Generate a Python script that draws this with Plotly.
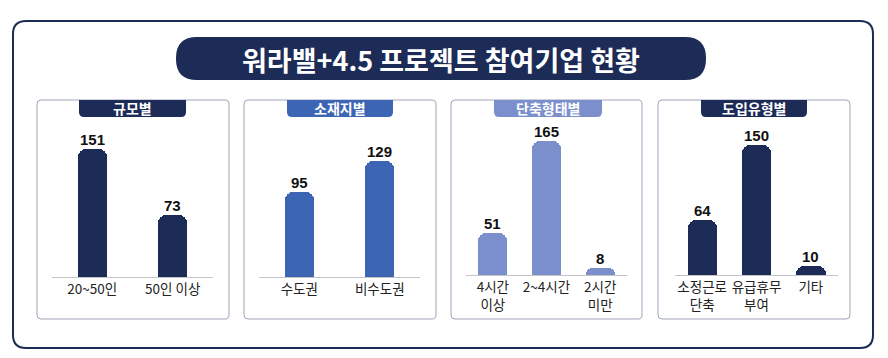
import plotly.graph_objects as go

# ---------------- data ----------------
title_text = "워라밸+4.5 프로젝트 참여기업 현황"

size_title = "규모별"
size_cats = ["20~50인", "50인 이상"]
size_vals = [151, 73]

region_title = "소재지별"
region_cats = ["수도권", "비수도권"]
region_vals = [95, 129]

reduce_title = "단축형태별"
reduce_cats = ["4시간<br>이상", "2~4시간", "2시간<br>미만"]
reduce_vals = [51, 165, 8]

intro_title = "도입유형별"
intro_cats = ["소정근로<br>단축", "유급휴무<br>부여", "기타"]
intro_vals = [64, 150, 10]

# ---------------- layout helpers ----------------
W, H = 888, 358
NAVY = "#1d2b57"
BLUE = "#3c65b4"
LAV = "#7b8fcc"
FONT = "Noto Sans CJK KR"
NUMFONT = "Liberation Sans"


def px(x):
    return x / W


def py(y):
    return 1 - y / H


def rrect(x0, y0, x1, y1, rtl, rtr, rbr, rbl):
    """rounded rect path in paper coords from pixel coords"""
    def P(x, y):
        return f"{px(x):.6f},{py(y):.6f}"
    d = f"M{P(x0 + rtl, y0)} L{P(x1 - rtr, y0)} Q{P(x1, y0)} {P(x1, y0 + rtr)} "
    d += f"L{P(x1, y1 - rbr)} Q{P(x1, y1)} {P(x1 - rbr, y1)} "
    d += f"L{P(x0 + rbl, y1)} Q{P(x0, y1)} {P(x0, y1 - rbl)} "
    d += f"L{P(x0, y0 + rtl)} Q{P(x0, y0)} {P(x0 + rtl, y0)} Z"
    return d


panels = [
    dict(title=size_title, cats=size_cats, vals=size_vals, color=NAVY,
         frame=(37, 100, 229, 319), head=(79, 186), axis=(52, 213), base=277, scale=0.85, bw=0.36),
    dict(title=region_title, cats=region_cats, vals=region_vals, color=BLUE,
         frame=(244, 100, 436, 319), head=(287, 393), axis=(259, 420), base=277, scale=0.90, bw=0.36),
    dict(title=reduce_title, cats=reduce_cats, vals=reduce_vals, color=LAV,
         frame=(451, 100, 642, 319), head=(494, 602), axis=(466, 627), base=275, scale=0.815, bw=0.54),
    dict(title=intro_title, cats=intro_cats, vals=intro_vals, color=NAVY,
         frame=(658, 100, 850, 319), head=(701, 807), axis=(675, 838), base=275, scale=0.865, bw=0.54),
]

fig = go.Figure()
shapes = []
annotations = []
layout_axes = {}

# outer frame
shapes.append(dict(type="path", xref="paper", yref="paper",
                   path=rrect(13, 21, 873, 348, 13, 13, 13, 13),
                   line=dict(color=NAVY, width=2), fillcolor="white", layer="below"))
# title pill
shapes.append(dict(type="path", xref="paper", yref="paper",
                   path=rrect(176, 37, 706, 80, 21, 21, 21, 21),
                   line=dict(width=0), fillcolor=NAVY, layer="below"))
annotations.append(dict(text=f"<b>{title_text}</b>", xref="paper", yref="paper",
                        x=px(441), y=py(59), showarrow=False, xanchor="center", yanchor="middle",
                        font=dict(family=FONT, size=27, color="white")))

TOP = 110
for i, p in enumerate(panels, start=1):
    fx0, fy0, fx1, fy1 = p["frame"]
    shapes.append(dict(type="path", xref="paper", yref="paper",
                       path=rrect(fx0, fy0, fx1, fy1, 4, 4, 4, 4),
                       line=dict(color="#9ea5b8", width=1), fillcolor="white", layer="below"))
    hx0, hx1 = p["head"]
    shapes.append(dict(type="path", xref="paper", yref="paper",
                       path=rrect(hx0, fy0, hx1, 117, 0, 0, 5, 5),
                       line=dict(width=0), fillcolor=p["color"], layer="above"))
    annotations.append(dict(text=f"<b>{p['title']}</b>", xref="paper", yref="paper",
                            x=px((hx0 + hx1) / 2), y=py(108), showarrow=False,
                            xanchor="center", yanchor="middle",
                            font=dict(family=FONT, size=14, color="white")))

    xa = "x" if i == 1 else f"x{i}"
    ya = "y" if i == 1 else f"y{i}"
    fig.add_trace(go.Bar(
        x=p["cats"], y=p["vals"], xaxis=xa, yaxis=ya,
        marker=dict(color=p["color"], cornerradius=8, line=dict(width=0)),
        width=p["bw"], cliponaxis=False, hoverinfo="skip", showlegend=False,
    ))
    for c, v in zip(p["cats"], p["vals"]):
        annotations.append(dict(text=f"<b>{v}</b>", xref=xa, yref=ya, x=c, y=v,
                                showarrow=False, xanchor="center", yanchor="bottom", yshift=-1,
                                font=dict(family=NUMFONT, size=15, color="#111111")))
    ax0, ax1 = p["axis"]
    rmax = (p["base"] - TOP) / p["scale"]
    layout_axes[f"xaxis{i if i > 1 else ''}"] = dict(
        domain=[px(ax0), px(ax1)], anchor=ya, showline=True, linecolor="#c4c4c4", linewidth=1,
        showgrid=False, zeroline=False, ticks="", fixedrange=True,
        tickfont=dict(family=FONT, size=13.5, color="#222222"))
    layout_axes[f"yaxis{i if i > 1 else ''}"] = dict(
        domain=[py(p["base"]), py(TOP)], anchor=xa, range=[0, rmax], visible=False,
        showgrid=False, zeroline=False, fixedrange=True)

fig.update_layout(
    width=W, height=H, margin=dict(l=0, r=0, t=0, b=0),
    paper_bgcolor="white", plot_bgcolor="rgba(0,0,0,0)",
    shapes=shapes, annotations=annotations, bargap=0, **layout_axes,
    font=dict(family=FONT),
)

fig.write_html("out.html", config={"displayModeBar": False})
